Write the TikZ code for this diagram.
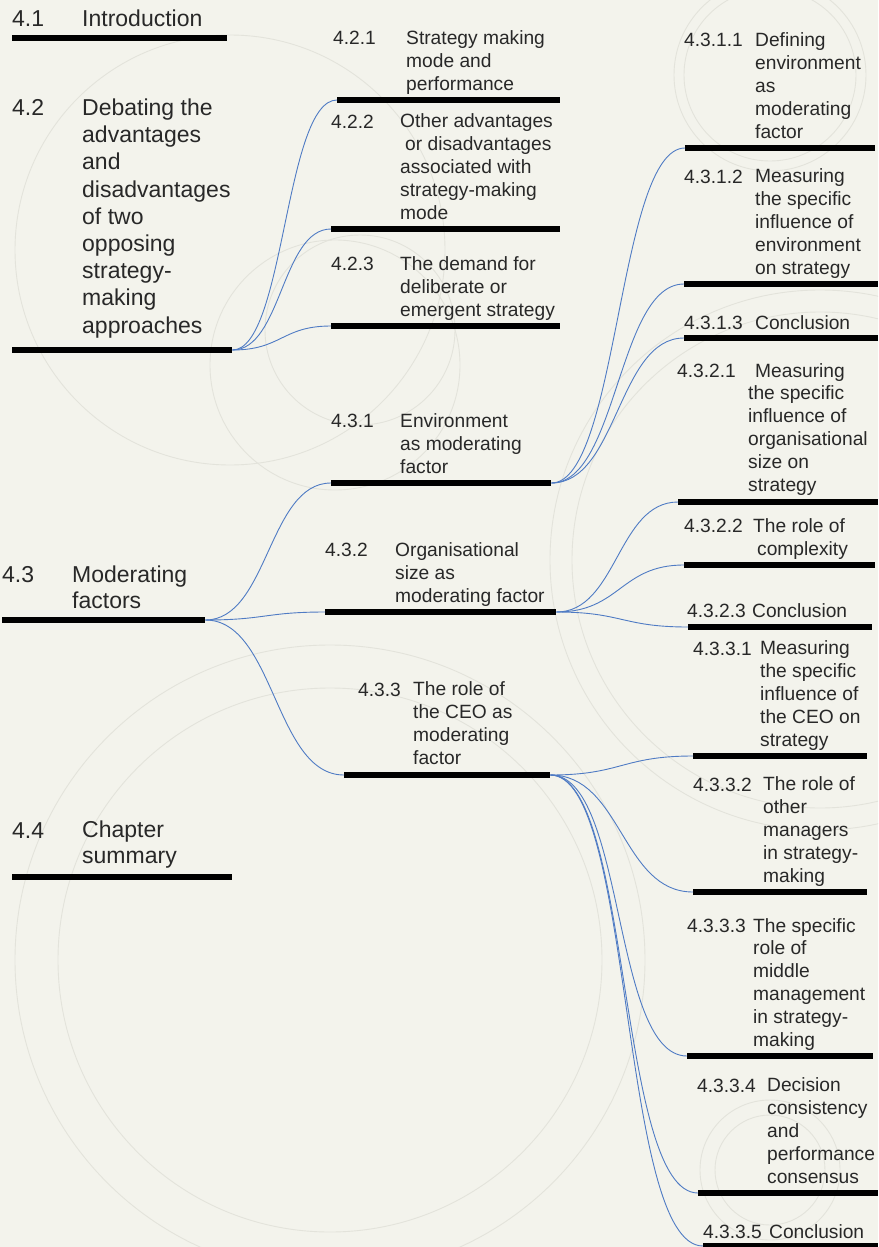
\documentclass[tikz,border=0pt]{standalone}
\usepackage{fontspec}
\setmainfont{Liberation Sans}
\usetikzlibrary{calc}
\definecolor{bgcol}{HTML}{F3F3EC}
\definecolor{txtcol}{HTML}{282828}
\definecolor{linkcol}{HTML}{4F7BC4}
\definecolor{ringcol}{HTML}{E3E3DB}
\tikzset{
  barline/.style={fill=black, draw=none, inner sep=0pt, minimum height=5.5pt, anchor=west},
  bigtxt/.style={font=\fontsize{23}{27.2}\selectfont, text=txtcol, inner sep=0pt, anchor=base west, align=left},
  smalltxt/.style={font=\fontsize{19.2}{22.8}\selectfont, text=txtcol, inner sep=0pt, anchor=base west, align=left},
  conn/.style={draw=linkcol, line width=0.9pt},
  ring/.style={draw=ringcol, line width=0.9pt}
}
% multi-line text nodes are placed by the baseline of their last line
\newcommand\linkto[3][0.5]{\draw[conn] let \p1=(#2.east), \p2=(#3.west), \n1={#1*(\x2-\x1)} in (\p1) .. controls +(\n1,0) and +(-\n1,0) .. (\p2);}
\begin{document}
\begin{tikzpicture}[x=1pt, y=-1pt]
\useasboundingbox (0,0) rectangle (878,1247);
\fill[bgcol] (0,0) rectangle (878,1247);
% faint background rings
\begin{scope}
\clip (0,0) rectangle (878,1247);
\draw[ring] (330,960) circle[radius=315];
\draw[ring] (330,960) circle[radius=272];
\draw[ring] (770,75) circle[radius=86];
\draw[ring] (770,75) circle[radius=96];
\draw[ring] (335,365) circle[radius=125];
\draw[ring] (360,330) circle[radius=95];
\draw[ring] (820,560) circle[radius=270];
\draw[ring] (820,560) circle[radius=248];
\draw[ring] (230,250) circle[radius=215];
\draw[ring] (770,1170) circle[radius=70];
\draw[ring] (770,1170) circle[radius=55];
\end{scope}

% ---- level 1 ----
\node[bigtxt] (n41) at (12,27) {4.1};
\node[bigtxt] (t41) at (82,27) {Introduction};
\node[barline, minimum width=215pt] (b41) at (12,38) {};

\node[bigtxt] (n42) at (12,115) {4.2};
\node[bigtxt] (t42) at (82,333) {Debating the\\advantages\\and\\disadvantages\\of two\\opposing\\strategy-\\making\\approaches};
\node[barline, minimum width=220pt] (b42) at (12,350) {};

\node[bigtxt] (n43) at (2,582) {4.3};
\node[bigtxt, font=\fontsize{23}{26}\selectfont] (t43) at (72,608) {Moderating\\factors};
\node[barline, minimum width=203pt] (b43) at (2,620) {};

\node[bigtxt] (n44) at (12,838) {4.4};
\node[bigtxt, font=\fontsize{23}{25.5}\selectfont] (t44) at (82,863) {Chapter\\summary};
\node[barline, minimum width=220pt] (b44) at (12,877) {};

% ---- level 2 ----
\node[smalltxt] (n421) at (333,45) {4.2.1};
\node[smalltxt] (t421) at (406,90) {Strategy making\\mode and\\performance};
\node[barline, minimum width=223pt] (b421) at (337,100) {};

\node[smalltxt] (n422) at (331,128) {4.2.2};
\node[smalltxt] (t422) at (400,219) {Other advantages\\\hspace*{5pt}or disadvantages\\associated with\\strategy-making\\mode};
\node[barline, minimum width=229pt] (b422) at (331,229) {};

\node[smalltxt] (n423) at (331,270) {4.2.3};
\node[smalltxt] (t423) at (400,316) {The demand for\\deliberate or\\emergent strategy};
\node[barline, minimum width=229pt] (b423) at (331,326) {};

\node[smalltxt] (n431) at (331,427) {4.3.1};
\node[smalltxt] (t431) at (400,473) {Environment\\as moderating\\factor};
\node[barline, minimum width=220pt] (b431) at (331,483) {};

\node[smalltxt] (n432) at (325,556) {4.3.2};
\node[smalltxt] (t432) at (395,602) {Organisational\\size as\\moderating factor};
\node[barline, minimum width=231pt] (b432) at (325,612) {};

\node[smalltxt] (n433) at (358,696) {4.3.3};
\node[smalltxt] (t433) at (413,764) {The role of\\the CEO as\\moderating\\factor};
\node[barline, minimum width=206pt] (b433) at (344,775) {};

% ---- level 3 ----
\node[smalltxt] (n4311) at (684,47) {4.3.1.1};
\node[smalltxt] (t4311) at (755,138) {Defining\\environment\\as\\moderating\\factor};
\node[barline, minimum width=190pt] (b4311) at (685,148) {};

\node[smalltxt] (n4312) at (684,183) {4.3.1.2};
\node[smalltxt] (t4312) at (755,274) {Measuring\\the specific\\influence of\\environment\\on strategy};
\node[barline, minimum width=194pt] (b4312) at (684,284) {};

\node[smalltxt] (n4313) at (684,329) {4.3.1.3};
\node[smalltxt] (t4313) at (755,329) {Conclusion};
\node[barline, minimum width=194pt] (b4313) at (684,338) {};

\node[smalltxt] (n4321) at (677,377) {4.3.2.1};
\node[smalltxt] (t4321) at (748,491) {\hspace*{7pt}Measuring\\the specific\\influence of\\organisational\\size on\\strategy};
\node[barline, minimum width=200pt] (b4321) at (678,502) {};

\node[smalltxt] (n4322) at (684,532) {4.3.2.2};
\node[smalltxt] (t4322) at (753,555) {The role of\\\hspace*{4pt}complexity};
\node[barline, minimum width=191pt] (b4322) at (684,565) {};

\node[smalltxt] (n4323) at (687,617) {4.3.2.3};
\node[smalltxt] (t4323) at (752,617) {Conclusion};
\node[barline, minimum width=184pt] (b4323) at (688,627) {};

\node[smalltxt] (n4331) at (693,655) {4.3.3.1};
\node[smalltxt] (t4331) at (760,746) {Measuring\\the specific\\influence of\\the CEO on\\strategy};
\node[barline, minimum width=174pt] (b4331) at (693,756) {};

\node[smalltxt] (n4332) at (693,791) {4.3.3.2};
\node[smalltxt] (t4332) at (763,882) {The role of\\other\\managers\\in strategy-\\making};
\node[barline, minimum width=174pt] (b4332) at (693,892) {};

\node[smalltxt] (n4333) at (687,932) {4.3.3.3};
\node[smalltxt] (t4333) at (753,1046) {The specific\\role of\\middle\\management\\in strategy-\\making};
\node[barline, minimum width=186pt] (b4333) at (687,1056) {};

\node[smalltxt] (n4334) at (697,1092) {4.3.3.4};
\node[smalltxt] (t4334) at (767,1183) {Decision\\consistency\\and\\performance\\consensus};
\node[barline, minimum width=180pt] (b4334) at (698,1193) {};

\node[smalltxt] (n4335) at (703,1238) {4.3.3.5};
\node[smalltxt] (t4335) at (769,1238) {Conclusion};
\node[barline, minimum width=175pt] (b4335) at (703,1246) {};

% ---- connectors ----
\linkto{b42}{b421}
\linkto{b42}{b422}
\linkto{b42}{b423}
\linkto{b43}{b431}
\linkto{b43}{b432}
\linkto{b43}{b433}
\linkto{b431}{b4311}
\linkto{b431}{b4312}
\linkto{b431}{b4313}
\linkto{b432}{b4321}
\linkto{b432}{b4322}
\linkto{b432}{b4323}
\linkto{b433}{b4331}
\linkto{b433}{b4332}
\linkto[0.55]{b433}{b4333}
\linkto[0.55]{b433}{b4334}
\linkto[0.55]{b433}{b4335}
\end{tikzpicture}
\end{document}
